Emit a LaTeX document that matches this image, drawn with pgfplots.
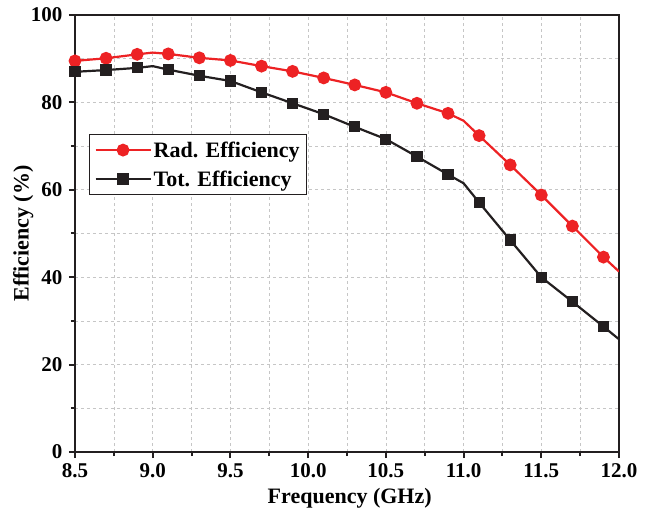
\documentclass[border=0pt]{standalone}
\usepackage{pgfplots}
\pgfplotsset{compat=1.18}
\usepackage{fontspec}
\setmainfont{Liberation Serif}
\definecolor{myred}{HTML}{ED2224}
\definecolor{myblack}{HTML}{231F20}
\begin{document}
\begin{tikzpicture}
\begin{axis}[
  scale only axis,
  width=544pt, height=437pt,
  xmin=8.5, xmax=12, ymin=0, ymax=100,
  xtick={8.5,9,...,12}, ytick={0,20,...,100},
  minor x tick num=1, minor y tick num=1,
  grid=both,
  major grid style={dashed, gray!45, line width=0.6pt},
  minor grid style={dashed, gray!45, line width=0.6pt},
  axis line style={line width=2pt, myblack},
  tick align=outside, xtick pos=bottom, ytick pos=left,
  major tick length=6pt, minor tick length=4pt,
  every tick/.style={line width=2pt, myblack},
  /pgf/number format/assume math mode=true,
  xticklabel style={font=\fontsize{21}{24}\selectfont\bfseries, yshift=-2pt, /pgf/number format/.cd, fixed, fixed zerofill, precision=1},
  yticklabel style={font=\fontsize{21}{24}\selectfont\bfseries, xshift=-3pt},
  xlabel={Frequency (GHz)},
  ylabel={Efficiency (\%)},
  every axis x label/.style={at={(axis description cs:0.505,-0.105)}, anchor=center, font=\fontsize{22}{25}\selectfont\bfseries},
  every axis y label/.style={at={(axis description cs:-0.095,0.5)}, anchor=center, rotate=90, font=\fontsize{22}{25}\selectfont\bfseries},
  legend style={at={(0.026,0.727)}, anchor=north west, draw=myblack, line width=0.6pt,
    font=\fontsize{22}{25}\selectfont\bfseries, inner sep=5pt, row sep=8pt},
  legend cell align=left,
  legend image code/.code={\draw[#1] (0pt,0pt) -- (55pt,0pt); \draw[#1] plot coordinates {(27.5pt,0pt)};},
]
\addplot[myred, line width=2.2pt, mark=*, mark size=5.3pt, mark options={solid, fill=myred},
  mark indices={1,2,3,5,6,7,8,9,10,11,12,13,14,16,17,18,19,20}] coordinates {
(8.5,89.5) (8.7,90.1) (8.9,91.0) (9.0,91.4) (9.1,91.1) (9.3,90.2) (9.5,89.6)
(9.7,88.3) (9.9,87.1) (10.1,85.6) (10.3,84.0) (10.5,82.3) (10.7,79.8) (10.9,77.5)
(11.0,75.8) (11.1,72.4) (11.3,65.7) (11.5,58.8) (11.7,51.7) (11.9,44.6) (12.0,41.3)};
\addlegendentry{Rad. Efficiency}
\addplot[myblack, line width=2.2pt, mark=square*, mark size=4.5pt, mark options={solid, fill=myblack},
  mark indices={1,2,3,5,6,7,8,9,10,11,12,13,14,16,17,18,19,20}] coordinates {
(8.5,87.0) (8.7,87.4) (8.9,87.9) (9.0,88.3) (9.1,87.5) (9.3,86.1) (9.5,84.9)
(9.7,82.3) (9.9,79.8) (10.1,77.3) (10.3,74.4) (10.5,71.6) (10.7,67.6) (10.9,63.5)
(11.0,61.5) (11.1,57.1) (11.3,48.5) (11.5,40.0) (11.7,34.4) (11.9,28.7) (12.0,25.8)};
\addlegendentry{Tot. Efficiency}
\end{axis}
\pgfresetboundingbox
\path[use as bounding box] (-75pt,-65pt) rectangle (579pt,452pt);
\end{tikzpicture}
\end{document}
